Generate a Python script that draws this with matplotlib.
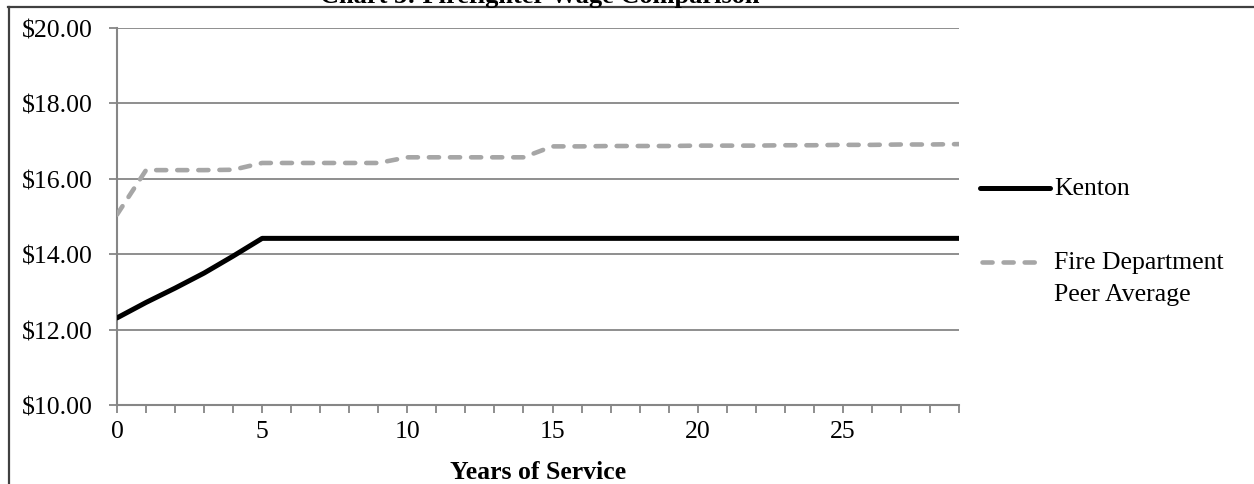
import matplotlib.pyplot as plt
from matplotlib.lines import Line2D
from matplotlib.ticker import FuncFormatter, MultipleLocator

# Data (hourly wage by years of service)
years = list(range(0, 30))
kenton = [12.31, 12.72, 13.10, 13.50, 13.95, 14.42] + [14.42] * 24
peer_avg = (
    [15.05]
    + [16.23, 16.23, 16.23, 16.24]
    + [16.42] * 5
    + [16.57] * 5
    + [16.86, 16.86, 16.87, 16.87, 16.87, 16.88, 16.88, 16.88,
       16.89, 16.89, 16.90, 16.90, 16.91, 16.91, 16.92]
)
series_names = ["Kenton", "Fire Department", "Peer Average"]
title = "Chart 3: Firefighter Wage Comparison"
x_label = "Years of Service"

W, H = 1254, 485
GRID = "#868686"
PEER = "#a6a6a6"

plt.rcParams["font.family"] = ["Liberation Serif", "DejaVu Serif"]
plt.rcParams["font.size"] = 18.5

fig = plt.figure(figsize=(W / 100, H / 100), dpi=100)

# plot area in pixel terms
left, right, top, bottom = 117, 959, 29, 406
ax = fig.add_axes([left / W, (H - bottom) / H, (right - left) / W, (bottom - top) / H])

ax.plot(years, kenton, color="black", linewidth=3.6, solid_capstyle="round",
        solid_joinstyle="round", zorder=3)
ax.plot(years, peer_avg, color=PEER, linewidth=3.3, linestyle=(0, (2.2, 2.4)),
        dash_capstyle="round", dash_joinstyle="round", zorder=3)

ax.set_xlim(0, 29)
ax.set_ylim(10, 20)
ax.yaxis.set_major_locator(MultipleLocator(2))
ax.yaxis.set_major_formatter(FuncFormatter(lambda v, p: f"${v:.2f}"))
ax.xaxis.set_major_locator(MultipleLocator(1))
ax.xaxis.set_major_formatter(FuncFormatter(lambda v, p: f"{int(v)}" if int(v) % 5 == 0 else ""))

ax.grid(axis="y", color=GRID, linewidth=1.3)
ax.set_axisbelow(True)
for s in ["top", "right"]:
    ax.spines[s].set_visible(False)
for s in ["left", "bottom"]:
    ax.spines[s].set_color(GRID)
    ax.spines[s].set_linewidth(1.5)
ax.tick_params(axis="both", direction="out", length=5.5, width=1.3, color=GRID)
ax.tick_params(axis="y", pad=12)
ax.tick_params(axis="x", pad=5)

ax.set_xlabel(x_label, fontweight="bold", labelpad=13)

# legend drawn by hand so the dashed key lines up with the first text line
fig.add_artist(Line2D([980 / W, 1050 / W], [1 - 189 / H] * 2, color="black",
                      linewidth=3.6, solid_capstyle="round"))
fig.text(1054 / W, 1 - 189 / H, series_names[0], va="center", ha="left")
fig.add_artist(Line2D([982 / W, 1042 / W], [1 - 263 / H] * 2, color=PEER,
                      linewidth=3.3, linestyle=(0, (2.2, 2.4)), dash_capstyle="round"))
fig.text(1054 / W, 1 - 263 / H, series_names[1], va="center", ha="left")
fig.text(1054 / W, 1 - 295 / H, series_names[2], va="center", ha="left")

# chart frame (top and left edges visible in the crop)
fig.add_artist(Line2D([8 / W, 1], [1 - 7.5 / H] * 2, color="#404040", linewidth=1.6))
fig.add_artist(Line2D([8.5 / W] * 2, [0, 1 - 7.5 / H], color="#404040", linewidth=1.6))

# title, mostly cut off by the top edge as in the source crop
fig.text(540 / W, 1 - 2.5 / H, title, ha="center", va="baseline",
         fontweight="bold", fontsize=19)

fig.savefig("out.png", dpi=100)
